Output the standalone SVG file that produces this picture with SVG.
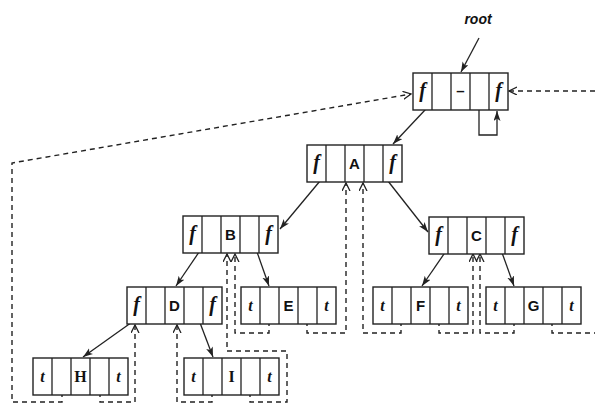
<svg xmlns="http://www.w3.org/2000/svg" width="595" height="405" viewBox="0 0 595 405">
<style>
.box{fill:#fff;stroke:#222;stroke-width:1.4}
.dv{stroke:#222;stroke-width:1.3;fill:none}
.f{font-family:"Liberation Serif",serif;font-style:italic;font-weight:bold;font-size:20px;text-anchor:middle;fill:#111}
.t{font-family:"Liberation Serif",serif;font-style:italic;font-weight:bold;font-size:16px;text-anchor:middle;fill:#111}
.d{font-family:"Liberation Sans",sans-serif;font-weight:bold;font-size:15px;text-anchor:middle;fill:#111}
.ds{font-family:"Liberation Serif",serif;font-weight:bold;font-size:16px;text-anchor:middle;fill:#111}
.sol{stroke:#222;stroke-width:1.3;fill:none;marker-end:url(#ah)}
.dsh{stroke:#222;stroke-width:1.4;fill:none;stroke-dasharray:5 4;marker-end:url(#oh)}
.dshn{stroke:#222;stroke-width:1.4;fill:none;stroke-dasharray:5 4}
</style>
<defs>
<marker id="ah" markerUnits="userSpaceOnUse" markerWidth="12" markerHeight="8" refX="10" refY="3.5" orient="auto">
<path d="M0,0 L10,3.5 L0,7 L2.5,3.5 z" fill="#222"/>
</marker>
<marker id="oh" markerUnits="userSpaceOnUse" markerWidth="12" markerHeight="10" refX="8" refY="4" orient="auto">
<path d="M0,0 L8,4 L0,8" fill="none" stroke="#222" stroke-width="1.3"/>
</marker>
</defs>
<rect width="595" height="405" fill="#fff"/>
<text x="478" y="24" style="font-family:'Liberation Sans',sans-serif;font-style:italic;font-weight:bold;font-size:14px;text-anchor:middle;fill:#111">root</text>

<g id="connectors">
<path class="sol" d="M479,38 L461,72"/>
<path class="sol" d="M441,93 L393,144"/>
<path class="sol" d="M479,94 V135 H497 V111"/>
<path class="sol" d="M335,163 L280,229"/>
<path class="sol" d="M373,162 L428,232"/>
<path class="sol" d="M212,233 L176,286"/>
<path class="sol" d="M251,235 L269,286"/>
<path class="sol" d="M457,235 L422,286"/>
<path class="sol" d="M496,236 L514,286"/>
<path class="sol" d="M156,305 L83,357"/>
<path class="sol" d="M194,307 L213,357"/>
<path class="dsh" d="M62,374 V402 H12 V163 L411,94"/>
<path class="dsh" d="M100,374 V402 H135 V325"/>
<path class="dsh" d="M212,374 V402 H177 V325"/>
<path class="dsh" d="M250,374 V402 H287 V351 H227 V254"/>
<path class="dsh" d="M269,303 V333 H235 V254"/>
<path class="dsh" d="M307,303 V333 H346 V183"/>
<path class="dsh" d="M401,303 V333 H363 V183"/>
<path class="dsh" d="M439,303 V333 H473 V254"/>
<path class="dsh" d="M514,303 V333 H480 V254"/>
<path class="dshn" d="M552,303 V333 H595"/>
<path class="dsh" d="M595,91 H509"/>
</g>

<g id="node-root">
<rect class="box" x="413" y="73" width="95" height="37"/>
<path class="dv" d="M432,73V110M451,73V110M470,73V110M489,73V110"/>
<text class="f" x="422.5" y="97">f</text>
<text class="d" x="460.5" y="96">–</text>
<text class="f" x="498.5" y="97">f</text>
</g>
<g id="node-A">
<rect class="box" x="307" y="145" width="95" height="37"/>
<path class="dv" d="M326,145V182M345,145V182M364,145V182M383,145V182"/>
<text class="f" x="316.5" y="169">f</text>
<text class="d" x="354.5" y="169">A</text>
<text class="f" x="392.5" y="169">f</text>
</g>
<g id="node-B">
<rect class="box" x="183" y="216" width="95" height="37"/>
<path class="dv" d="M202,216V253M221,216V253M240,216V253M259,216V253"/>
<text class="f" x="192.5" y="240">f</text>
<text class="d" x="230.5" y="240">B</text>
<text class="f" x="268.5" y="240">f</text>
</g>
<g id="node-C">
<rect class="box" x="429" y="217" width="95" height="37"/>
<path class="dv" d="M448,217V254M467,217V254M486,217V254M505,217V254"/>
<text class="f" x="438.5" y="241">f</text>
<text class="d" x="476.5" y="241">C</text>
<text class="f" x="514.5" y="241">f</text>
</g>
<g id="node-D">
<rect class="box" x="127" y="287" width="95" height="37"/>
<path class="dv" d="M146,287V324M165,287V324M184,287V324M203,287V324"/>
<text class="f" x="136.5" y="311">f</text>
<text class="d" x="174.5" y="311">D</text>
<text class="f" x="212.5" y="311">f</text>
</g>
<g id="node-E">
<rect class="box" x="241" y="287" width="95" height="37"/>
<path class="dv" d="M260,287V324M279,287V324M298,287V324M317,287V324"/>
<text class="t" x="250.5" y="311">t</text>
<text class="d" x="288.5" y="311">E</text>
<text class="t" x="326.5" y="311">t</text>
</g>
<g id="node-F">
<rect class="box" x="373" y="287" width="95" height="37"/>
<path class="dv" d="M392,287V324M411,287V324M430,287V324M449,287V324"/>
<text class="t" x="382.5" y="311">t</text>
<text class="d" x="420.5" y="311">F</text>
<text class="t" x="458.5" y="311">t</text>
</g>
<g id="node-G">
<rect class="box" x="486" y="287" width="95" height="37"/>
<path class="dv" d="M505,287V324M524,287V324M543,287V324M562,287V324"/>
<text class="t" x="495.5" y="311">t</text>
<text class="d" x="533.5" y="311">G</text>
<text class="t" x="571.5" y="311">t</text>
</g>
<g id="node-H">
<rect class="box" x="33" y="358" width="95" height="37"/>
<path class="dv" d="M52,358V395M71,358V395M90,358V395M109,358V395"/>
<text class="t" x="42.5" y="382">t</text>
<text class="ds" x="80.5" y="382">H</text>
<text class="t" x="118.5" y="382">t</text>
</g>
<g id="node-I">
<rect class="box" x="184" y="358" width="95" height="37"/>
<path class="dv" d="M203,358V395M222,358V395M241,358V395M260,358V395"/>
<text class="t" x="193.5" y="382">t</text>
<text class="ds" x="231.5" y="382">I</text>
<text class="t" x="269.5" y="382">t</text>
</g>
</svg>
